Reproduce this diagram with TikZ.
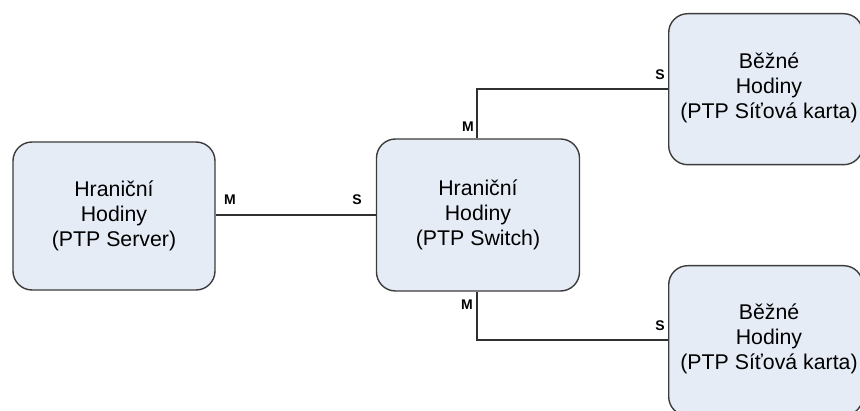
\documentclass[tikz,border=0pt]{standalone}
\usepackage{fontspec}
\setmainfont{Liberation Sans}
\definecolor{boxfill}{HTML}{E6ECF6}
\definecolor{boxline}{HTML}{3C3C3C}
\definecolor{wire}{HTML}{303030}
\begin{document}
\begin{tikzpicture}[x=1pt,y=-1pt,
  clockbox/.style={draw=boxline, fill=boxfill, line width=1.4pt,
    rounded corners=19pt, inner sep=0pt, font=\fontsize{21.3}{24.8}\selectfont,
    align=center},
  boxtext/.style={font=\fontsize{21.3}{24.8}\selectfont, align=center, inner sep=0pt},
  wire/.style={draw=wire, line width=1.1pt},
  port/.style={font=\bfseries\fontsize{14}{14}\selectfont, inner sep=0pt, text=black}]
  \useasboundingbox (0,0) rectangle (860,411);
  \clip (0,0) rectangle (860,411);

  % clock boxes
  \node[clockbox, minimum width=202pt, minimum height=148pt] (server) at (114,216)
    {Hraniční\\Hodiny\\(PTP Server)};
  \node[clockbox, minimum width=203pt, minimum height=152pt] (switch) at (478,215)
    {Hraniční\\Hodiny\\(PTP Switch)};
  \node[clockbox, minimum width=194pt, minimum height=151pt, anchor=north west] (nicA) at (668,13) {};
  \node[clockbox, minimum width=194pt, minimum height=150pt, anchor=north west] (nicB) at (668,265) {};
  \node[boxtext] (nicAtext) at (769,88)
    {Běžné\\Hodiny\\(PTP Síťová karta)};
  \node[boxtext] (nicBtext) at (769,339)
    {Běžné\\Hodiny\\(PTP Síťová karta)};

  % connections
  \coordinate (upperTurn) at (477,89);
  \coordinate (lowerTurn) at (477,340);
  \draw[wire] (server.east |- 0,215) -- (switch.west |- 0,215);
  \draw[wire] (switch.north -| upperTurn) -- (upperTurn) -- (nicA.west |- upperTurn);
  \draw[wire] (switch.south -| lowerTurn) -- (lowerTurn) -- (nicB.west |- lowerTurn);

  % port roles
  \node[port] (m1) at (230,200) {M};
  \node[port] (s1) at (357,200) {S};
  \node[port] (m2) at (468,127) {M};
  \node[port] (s2) at (660,75) {S};
  \node[port] (m3) at (467,305) {M};
  \node[port] (s3) at (660,326) {S};
\end{tikzpicture}
\end{document}
